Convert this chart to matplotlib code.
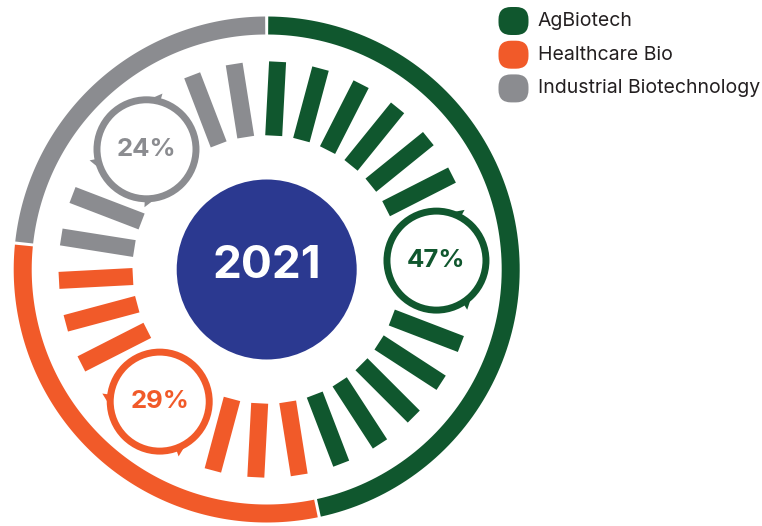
"""Donut-style share chart for 2021: outer ring, radial bars and callout bubbles."""
import numpy as np
import matplotlib
matplotlib.use('Agg')
import matplotlib.pyplot as plt
from matplotlib.patches import Polygon, Circle, FancyBboxPatch

plt.rcParams['font.family'] = ['Inter', 'DejaVu Sans']

# data
categories = ['AgBiotech', 'Healthcare Bio', 'Industrial Biotechnology']
shares = [47, 29, 24]
pct_labels = ['47%', '29%', '24%']
year_label = '2021'

colors = ['#10572E', '#F15A29', '#8B8C90']
center_color = '#2B3990'
text_color = '#231F20'

# layout (pixel units, y pointing down)
W, H = 762, 526
cx, cy = 266.7, 269.5
n_slots = 30
slot_deg = 360 / n_slots
bar_offset = 3.0
ring_in, ring_out = 235, 253
bar_in, bar_out, bar_w = 134, 208, 17
hole_r = 90
bubble_dist, bubble_r, bubble_lw = 170, 49.5, 5.0
# decorative tabs on each bubble (angle clockwise from top, in degrees)
bubble_tabs = [[27, 146], [276, 159], [14, 257, 180]]


def pt(r, a, ox=cx, oy=cy):
    a = np.radians(a)
    return ox + r * np.sin(a), oy - r * np.cos(a)


def arc_poly(r0, r1, a0, a1, color):
    t = np.linspace(a0, a1, 120)
    outer = [pt(r1, a) for a in t]
    inner = [pt(r0, a) for a in t[::-1]]
    return Polygon(outer + inner, closed=True, facecolor=color, edgecolor='none')


def bar_poly(a, color):
    x0, y0 = pt(bar_in, a)
    x1, y1 = pt(bar_out, a)
    ra = np.radians(a)
    px, py = np.cos(ra) * bar_w / 2, np.sin(ra) * bar_w / 2
    pts = [(x0 - px, y0 - py), (x1 - px, y1 - py), (x1 + px, y1 + py), (x0 + px, y0 + py)]
    return Polygon(pts, closed=True, facecolor=color, edgecolor='none')


fig = plt.figure(figsize=(W / 100, H / 100), dpi=100)
ax = fig.add_axes([0, 0, 1, 1])
ax.set_xlim(0, W)
ax.set_ylim(H, 0)
ax.axis('off')

counts = [int(round(s / 100 * n_slots)) for s in shares]
start = 0
for i, (cnt, col) in enumerate(zip(counts, colors)):
    a0 = start * slot_deg
    a1 = (start + cnt) * slot_deg
    # outer ring segment, small white gap at each end
    ax.add_patch(arc_poly(ring_in, ring_out, a0 + 0.35, a1 - 0.35, col))

    gap_mid = start + cnt // 2
    for k in range(start, start + cnt):
        if abs(k - gap_mid) <= 1:
            continue
        ax.add_patch(bar_poly(k * slot_deg + bar_offset, col))

    # callout bubble
    bx, by = pt(bubble_dist, gap_mid * slot_deg + bar_offset)
    r_edge = bubble_r + bubble_lw * 100 / 72 / 2
    for ta in bubble_tabs[i]:
        tri = [pt(r_edge - 3, ta - 11, bx, by), pt(r_edge - 3, ta + 2, bx, by),
               pt(r_edge + 5, ta + 2, bx, by)]
        ax.add_patch(Polygon(tri, closed=True, facecolor=col, edgecolor='none', zorder=3))
    ax.add_patch(Circle((bx, by), bubble_r, facecolor='white', edgecolor=col,
                        linewidth=bubble_lw, zorder=4))
    ax.text(bx, by, pct_labels[i], ha='center', va='center', fontsize=18.5,
            fontweight='bold', color=col, zorder=5)
    start += cnt

ax.add_patch(Circle((cx, cy), hole_r, facecolor=center_color, edgecolor='none'))
ax.text(cx, cy - 3, year_label, ha='center', va='center', fontsize=33,
        fontweight='bold', color='white')

# legend
for i, (name, col) in enumerate(zip(categories, colors)):
    ly = 21 + i * 33.7
    ax.add_patch(FancyBboxPatch((498.5, ly - 14), 30, 28,
                                boxstyle='round,pad=0,rounding_size=12.5',
                                facecolor=col, edgecolor='none'))
    ax.text(538, ly, name, ha='left', va='center', fontsize=14, color=text_color)

plt.savefig('out.png', dpi=100, facecolor='white')
